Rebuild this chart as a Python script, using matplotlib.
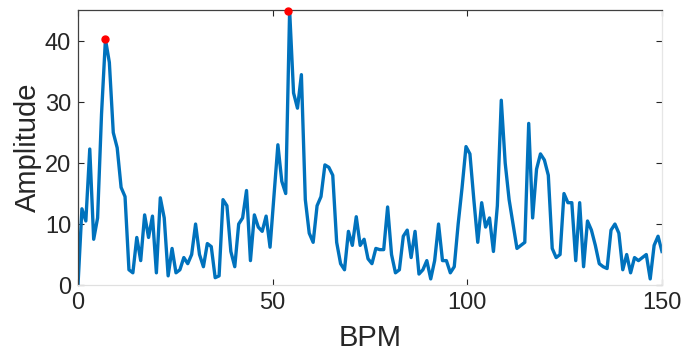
import numpy as np
import matplotlib
matplotlib.use("Agg")
import matplotlib.pyplot as plt

amplitude = [
    0, 12.5, 10.5, 22.3, 7.5, 11, 28, 40.3, 36.5, 25,
    22.5, 16, 14.5, 2.5, 2, 7.8, 4, 11.5, 7.8, 11.3,
    2, 14.3, 11, 1.5, 6, 2, 2.5, 4.5, 3.5, 5,
    10, 5, 3, 6.8, 6.3, 1.2, 1.5, 14, 13, 5.5,
    3, 10, 11, 15.5, 4, 11.5, 9.5, 8.8, 11.3, 6.2,
    14.5, 23, 17, 15, 45, 31.5, 29, 34.5, 14, 8.5,
    7, 13, 14.5, 19.7, 19.3, 18, 7, 3.5, 2.5, 8.8,
    6.5, 11.2, 6.5, 7.5, 4.3, 3.5, 6, 5.8, 5.8, 12.8,
    5, 2, 2.5, 8, 9, 4.5, 8.8, 1.8, 2.5, 4,
    1, 4, 10, 4, 4, 2, 3, 10, 16, 22.7,
    21.5, 14, 7, 13.5, 9.5, 11, 5.5, 13, 30.3, 20,
    14, 10, 6, 6.5, 7, 26.5, 11, 19, 21.5, 20.5,
    18, 6, 4.5, 5, 15, 13.5, 13.5, 4, 13.5, 3,
    10.5, 9, 6.5, 3.5, 3, 2.7, 9, 10, 8.5, 2.5,
    5, 2, 4.5, 4, 4.5, 5, 1, 6.5, 8, 5.5,
]
bpm = np.linspace(0, 150, len(amplitude))
peak_bpm = [7, 54]
peak_amp = [40.3, 45]

plt.rcParams['font.family'] = ['Liberation Sans', 'DejaVu Sans']
fig = plt.figure(figsize=(6.83, 3.56), dpi=100)
ax = fig.add_axes([0.1142, 0.1994, 0.855, 0.7725])
ax.plot(bpm, amplitude, color=(0, 0.447, 0.741), linewidth=2.4)
ax.plot(peak_bpm, peak_amp, 'o', color='red', markersize=5, zorder=3, clip_on=False)
ax.set_xlim(0, 150)
ax.set_ylim(0, 45.1)
ax.set_xticks([0, 50, 100, 150])
ax.set_yticks([0, 10, 20, 30, 40])
ax.tick_params(direction='in', top=True, right=True, labelsize=17,
               colors='0.15', length=4, width=0.8, pad=5)
ax.spines['top'].set_color('0.25')
ax.spines['left'].set_color('0.25')
ax.spines['bottom'].set_color('0.88')
ax.spines['right'].set_color('0.9')
for s in ax.spines.values():
    s.set_linewidth(0.9)
ax.set_xlabel('BPM', fontsize=21, color='0.15', labelpad=7)
ax.set_ylabel('Amplitude', fontsize=21, color='0.15', labelpad=2)
fig.savefig('out.png', dpi=100)
